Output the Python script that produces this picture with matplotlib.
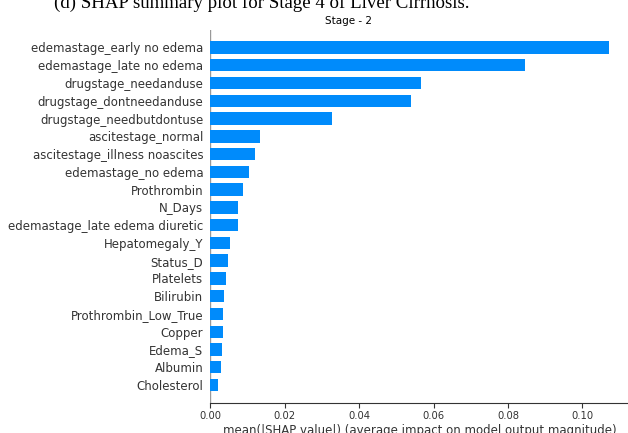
import matplotlib
matplotlib.use("Agg")
import matplotlib.pyplot as plt
import numpy as np

features = ['edemastage_early no edema', 'edemastage_late no edema',
            'drugstage_needanduse', 'drugstage_dontneedanduse',
            'drugstage_needbutdontuse', 'ascitestage_normal',
            'ascitestage_illness noascites', 'edemastage_no edema',
            'Prothrombin', 'N_Days', 'edemastage_late edema diuretic',
            'Hepatomegaly_Y', 'Status_D', 'Platelets', 'Bilirubin',
            'Prothrombin_Low_True', 'Copper', 'Edema_S', 'Albumin',
            'Cholesterol']
mean_shap = [0.1072, 0.0846, 0.0567, 0.0538, 0.0326, 0.0134, 0.0120,
             0.0105, 0.0089, 0.0075, 0.0075, 0.0054, 0.0047, 0.0041,
             0.0036, 0.0034, 0.0034, 0.0032, 0.0029, 0.0020]
xticks = [0.00, 0.02, 0.04, 0.06, 0.08, 0.10]

blue = '#008bfb'

fig = plt.figure(figsize=(6.28, 4.33), dpi=100)
ax = fig.add_axes([210.3/628, 30.2/433, (629.2-210.3)/628, (403.3-30.2)/433])

# smallest first so the biggest bar sits on top
y_pos = np.arange(len(features))
vals = mean_shap[::-1]
names = features[::-1]
ax.axvline(0, color='#999999', lw=1, zorder=-1)
ax.barh(y_pos, vals, 0.7, align='center', color=blue)
ax.set_ylim(-1, len(features))
ax.set_xlim(0, max(mean_shap) * 1.05)

ax.set_yticks(y_pos)
ax.set_yticklabels(names, fontsize=8.5, color='#333333')
ax.set_xticks(xticks)
ax.set_xticklabels(['%.2f' % t for t in xticks], fontsize=7.2, color='#333333')
ax.tick_params(axis='y', length=0, pad=5)
ax.tick_params(axis='x', color='#333333', length=3.5, pad=2.5)
for s in ['top', 'right', 'left']:
    ax.spines[s].set_visible(False)
ax.spines['bottom'].set_color('#333333')
ax.set_xlabel('mean(|SHAP value|) (average impact on model output magnitude)',
              fontsize=8.5, color='#333333', labelpad=2)

fig.text(348.5/628, 1 - 21/433, 'Stage - 2', fontsize=7.5, ha='center', va='center')
fig.text(262/628, 1 - 8/433, '(d) SHAP summary plot for Stage 4 of Liver Cirrhosis.',
         fontsize=13.6, family='Liberation Serif', ha='center', va='baseline')

fig.savefig('out.png', dpi=100)
